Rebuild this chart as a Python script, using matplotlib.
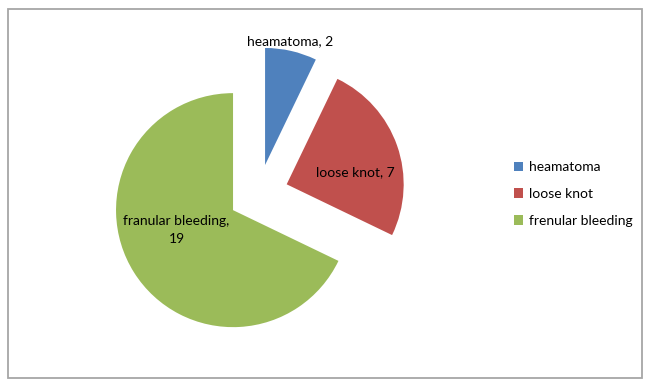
import matplotlib
matplotlib.use("Agg")
import matplotlib.pyplot as plt
from matplotlib.patches import Rectangle

categories = ["heamatoma", "loose knot", "frenular bleeding"]
values = [2, 7, 19]
slice_labels = ["heamatoma, 2", "loose knot, 7", "franular bleeding,\n19"]
colors = ["#4F81BD", "#C0504D", "#9BBB59"]

plt.rcParams['font.family'] = ['Lato', 'DejaVu Sans']

W, H = 650, 384
fig = plt.figure(figsize=(W / 100, H / 100), dpi=100)

# outer chart border
fig.patches.append(Rectangle((8 / W, (H - 378) / H), (642 - 8) / W, (378 - 9) / H,
                             transform=fig.transFigure, fill=False,
                             edgecolor="#A6A6A6", linewidth=1.3))

R = 117.0          # pie radius in px
cx, cy = 258.4, 194.2  # pie centre in px (from top)
half = 150.0
ax = fig.add_axes([(cx - half) / W, (H - cy - half) / H, 2 * half / W, 2 * half / H])

wedges, _ = ax.pie(values, colors=colors, startangle=90, counterclock=False,
                   explode=[0.256] * len(values), radius=1.0,
                   wedgeprops=dict(linewidth=0))
lim = half / R
ax.set_xlim(-lim, lim)
ax.set_ylim(-lim, lim)
ax.axis("off")

label_pos = [(0.27, 1.31), (0.826, 0.186), (-0.70, -0.306)]
for txt, (x, y) in zip(slice_labels, label_pos):
    ax.text(x, y, txt, ha="center", va="center", fontsize=10, color="black",
            linespacing=1.65)

leg = fig.legend(wedges, categories, loc="center left",
                 bbox_to_anchor=(501 / W, (H - 194) / H), frameon=False,
                 fontsize=10, handlelength=0.7, handleheight=0.7,
                 handletextpad=0.4, labelspacing=1.05)

fig.savefig("out.png", dpi=100)
